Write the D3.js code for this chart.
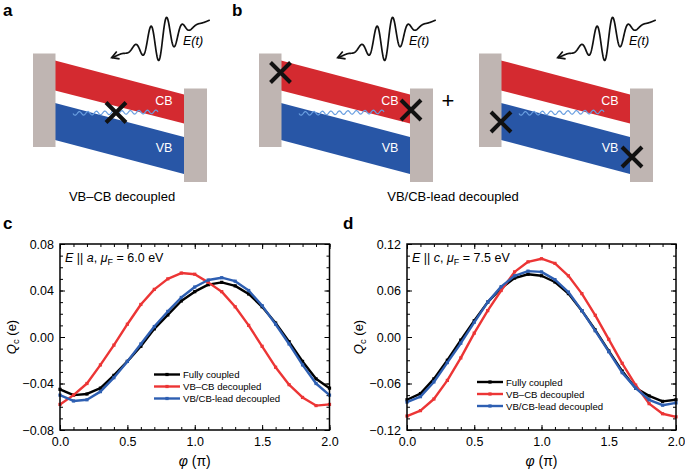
<!DOCTYPE html>
<html>
<head>
<meta charset="utf-8">
<script src="https://cdn.jsdelivr.net/npm/d3@7"></script>
<style>
  body { margin: 0; background: #fff; }
  text { font-family: "Liberation Sans", Arial, sans-serif; }
</style>
</head>
<body>
<script>
// ---- data ----
const phi = [0.0, 0.1, 0.2, 0.3, 0.4, 0.5, 0.6, 0.7, 0.8, 0.9, 1.0,
             1.1, 1.2, 1.3, 1.4, 1.5, 1.6, 1.7, 1.8, 1.9, 2.0];

// panel c: E || a, muF = 6.0 eV
const cFully = [-0.045, -0.050, -0.049, -0.044, -0.033, -0.021, -0.008, 0.007, 0.019, 0.031, 0.039,
                0.045, 0.047, 0.044, 0.037, 0.026, 0.012, -0.004, -0.021, -0.036, -0.044];
const cVbCb  = [-0.058, -0.050, -0.040, -0.024, -0.007, 0.011, 0.028, 0.041, 0.050, 0.055, 0.054,
                0.047, 0.039, 0.026, 0.010, -0.008, -0.026, -0.041, -0.052, -0.059, -0.058];
const cLead  = [-0.050, -0.055, -0.054, -0.047, -0.035, -0.021, -0.006, 0.009, 0.022, 0.034, 0.043,
                0.049, 0.051, 0.048, 0.040, 0.027, 0.011, -0.006, -0.024, -0.040, -0.050];

// panel d: E || c, muF = 7.5 eV
const dFully = [-0.081, -0.073, -0.054, -0.030, -0.004, 0.021, 0.045, 0.063, 0.076, 0.081, 0.079,
                0.071, 0.056, 0.034, 0.009, -0.018, -0.044, -0.066, -0.076, -0.083, -0.081];
const dVbCb  = [-0.102, -0.095, -0.080, -0.056, -0.027, 0.005, 0.034, 0.060, 0.084, 0.097, 0.101,
                0.095, 0.079, 0.056, 0.028, -0.003, -0.034, -0.062, -0.086, -0.099, -0.103];
const dLead  = [-0.084, -0.077, -0.058, -0.033, -0.008, 0.019, 0.045, 0.065, 0.079, 0.085, 0.084,
                0.074, 0.058, 0.034, 0.008, -0.019, -0.046, -0.066, -0.081, -0.088, -0.085];

const seriesNames = ["Fully coupled", "VB\u2013CB decoupled", "VB/CB-lead decoupled"];
const seriesColors = ["#000000", "#ec3535", "#2e5fb2"];

const xTicks = [0, 0.5, 1.0, 1.5, 2.0];
const cYTicks = [-0.08, -0.04, 0.00, 0.04, 0.08];
const dYTicks = [-0.12, -0.06, 0.00, 0.06, 0.12];

const W = 685, H = 470;
const svg = d3.select("body").append("svg").attr("width", W).attr("height", H);
svg.append("rect").attr("width", W).attr("height", H).attr("fill", "#fff");

// ---- schematic panels a / b ----
const LEAD = "#bfb5b2", RED = "#d42a30", BLUE = "#2856a6";

function drawDiagram(lx, crosses) {
  const g = svg.append("g").attr("transform", `translate(${lx},0)`);
  // bands
  g.append("path").attr("d", "M22,60.5 L151,94.5 L151,123.5 L22,90.5Z").attr("fill", RED);
  g.append("path").attr("d", "M22,103 L151,137 L151,174 L22,140Z").attr("fill", BLUE);
  // leads
  g.append("rect").attr("x", 0).attr("y", 53.5).attr("width", 22.5).attr("height", 93.5).attr("fill", LEAD);
  g.append("rect").attr("x", 151).attr("y", 88.5).attr("width", 23).attr("height", 93.5).attr("fill", LEAD);
  // band labels
  g.append("text").attr("x", 131).attr("y", 105).attr("text-anchor", "middle")
    .attr("fill", "#fff").attr("font-size", 12.5).text("CB");
  g.append("text").attr("x", 131).attr("y", 152).attr("text-anchor", "middle")
    .attr("fill", "#fff").attr("font-size", 12.5).text("VB");
  // little wavy coupling line in the gap
  const wave = d3.range(0, 85.01, 0.5).map(s => [40 + s, 113.5 - s * 0.02 + 1.8 * Math.sin(2 * Math.PI * s / 8.5)]);
  g.append("path").attr("d", d3.line()(wave)).attr("fill", "none")
    .attr("stroke", "#6a9fe0").attr("stroke-width", 1.2);
  // light pulse E(t)
  const tip = [78.7, 57.7], tail = [177, 20], L = tail[0] - tip[0];
  const pulse = d3.range(0, L + 0.01, 0.3).map(s => {
    const env = Math.exp(-Math.pow((s - 49) / 20, 2));
    return [tip[0] + s, tip[1] + (tail[1] - tip[1]) * s / L + 21 * env * Math.cos(2 * Math.PI * (s - 47) / 16)];
  });
  g.append("path").attr("d", d3.line()(pulse)).attr("fill", "none")
    .attr("stroke", "#111").attr("stroke-width", 1.7).attr("stroke-linejoin", "round");
  const dir = [L, tail[1] - tip[1]], dl = Math.hypot(dir[0], dir[1]);
  const ux = dir[0] / dl, uy = dir[1] / dl, al = 8, an = Math.PI / 6;
  const arm = a => [tip[0] + al * (ux * Math.cos(a) - uy * Math.sin(a)), tip[1] + al * (ux * Math.sin(a) + uy * Math.cos(a))];
  g.append("path").attr("d", d3.line()([arm(an), tip, arm(-an)])).attr("fill", "none")
    .attr("stroke", "#111").attr("stroke-width", 1.7);
  const et = g.append("text").attr("x", 150).attr("y", 45).attr("font-size", 12.5).attr("font-style", "italic");
  et.append("tspan").text("E(");
  et.append("tspan").text("t");
  et.append("tspan").text(")");
  // crosses
  crosses.forEach(([cx, cy]) => {
    g.append("path").attr("d", `M${cx-10},${cy-10}L${cx+10},${cy+10}M${cx+10},${cy-10}L${cx-10},${cy+10}`)
      .attr("stroke", "#111").attr("stroke-width", 4);
  });
}

drawDiagram(33, [[83, 112.5]]);
drawDiagram(259, [[21.5, 72.5], [152, 110]]);
drawDiagram(479, [[22, 122], [153, 157]]);

svg.append("text").attr("x", 122).attr("y", 201).attr("text-anchor", "middle").attr("font-size", 13).text("VB\u2013CB decoupled");
svg.append("text").attr("x", 453).attr("y", 201).attr("text-anchor", "middle").attr("font-size", 13).text("VB/CB-lead decoupled");
svg.append("text").attr("x", 448).attr("y", 108).attr("text-anchor", "middle").attr("font-size", 22).text("+");

// panel letters
[["a", 3, 16], ["b", 232, 16], ["c", 3, 229], ["d", 343, 229]].forEach(([t, x, y]) => {
  svg.append("text").attr("x", x).attr("y", y).attr("font-size", 17).attr("font-weight", "bold").text(t);
});

// ---- line charts c / d ----
const fmtY = d => (d < -1e-9 ? "\u2212" : "") + Math.abs(d).toFixed(2);
const fmtX = d => d.toFixed(1);

function drawPlot(cfg) {
  const x = d3.scaleLinear().domain([0, 2]).range([cfg.left, cfg.right]);
  const y = d3.scaleLinear().domain(cfg.yDomain).range([cfg.bottom, cfg.top]);
  const g = svg.append("g");
  const xMinor = d3.range(0, 2.001, 0.1);
  const yMinor = d3.range(cfg.yDomain[0], cfg.yDomain[1] + 1e-6, cfg.yMinorStep);

  const style = sel => {
    sel.select(".domain").remove();
    sel.selectAll(".tick line").attr("stroke", "#000").attr("stroke-width", 1);
    sel.selectAll(".tick text").attr("font-size", 12.5).attr("fill", "#000")
      .attr("font-family", "Liberation Sans, Arial, sans-serif");
  };

  // major + minor ticks, all four sides, pointing inward
  g.append("g").attr("transform", `translate(0,${cfg.bottom})`)
    .call(d3.axisBottom(x).tickValues(xMinor).tickSize(-3).tickFormat("")).call(style);
  g.append("g").attr("transform", `translate(0,${cfg.bottom})`)
    .call(d3.axisBottom(x).tickValues(xTicks).tickSize(-5).tickPadding(7).tickFormat(fmtX)).call(style);
  g.append("g").attr("transform", `translate(0,${cfg.top})`)
    .call(d3.axisTop(x).tickValues(xMinor).tickSize(-3).tickFormat("")).call(style);
  g.append("g").attr("transform", `translate(0,${cfg.top})`)
    .call(d3.axisTop(x).tickValues(xTicks).tickSize(-5).tickFormat("")).call(style);
  g.append("g").attr("transform", `translate(${cfg.left},0)`)
    .call(d3.axisLeft(y).tickValues(yMinor).tickSize(-3).tickFormat("")).call(style);
  g.append("g").attr("transform", `translate(${cfg.left},0)`)
    .call(d3.axisLeft(y).tickValues(cfg.yTicks).tickSize(-5).tickPadding(6).tickFormat(fmtY)).call(style);
  g.append("g").attr("transform", `translate(${cfg.right},0)`)
    .call(d3.axisRight(y).tickValues(yMinor).tickSize(-3).tickFormat("")).call(style);
  g.append("g").attr("transform", `translate(${cfg.right},0)`)
    .call(d3.axisRight(y).tickValues(cfg.yTicks).tickSize(-5).tickFormat("")).call(style);

  // series
  const line = d3.line().x((d, i) => x(phi[i])).y(d => y(d));
  cfg.series.forEach((vals, k) => {
    g.append("path").datum(vals).attr("d", line).attr("fill", "none")
      .attr("stroke", seriesColors[k]).attr("stroke-width", 2.4).attr("stroke-linejoin", "round");
    g.selectAll(null).data(vals).join("rect")
      .attr("x", (d, i) => x(phi[i]) - 1.6).attr("y", d => y(d) - 1.6)
      .attr("width", 3.2).attr("height", 3.2).attr("fill", seriesColors[k]);
  });

  // frame
  g.append("rect").attr("x", cfg.left).attr("y", cfg.top)
    .attr("width", cfg.right - cfg.left).attr("height", cfg.bottom - cfg.top)
    .attr("fill", "none").attr("stroke", "#000").attr("stroke-width", 1.5);

  // legend
  seriesNames.forEach((name, k) => {
    const ly = cfg.legendY + k * 12;
    g.append("line").attr("x1", cfg.legendX).attr("x2", cfg.legendX + 26)
      .attr("y1", ly).attr("y2", ly).attr("stroke", seriesColors[k]).attr("stroke-width", 2.4);
    g.append("rect").attr("x", cfg.legendX + 11.4).attr("y", ly - 1.6)
      .attr("width", 3.2).attr("height", 3.2).attr("fill", seriesColors[k]);
    g.append("text").attr("x", cfg.legendX + 29).attr("y", ly + 3.5)
      .attr("font-size", 9.6).text(name);
  });

  // annotation  E || a, muF = ...
  const note = g.append("text").attr("x", cfg.left + 5).attr("y", cfg.top + 18).attr("font-size", 12.5);
  note.append("tspan").attr("font-style", "italic").text("E");
  note.append("tspan").text(" || ");
  note.append("tspan").attr("font-style", "italic").text(cfg.axisName);
  note.append("tspan").text(", ");
  note.append("tspan").attr("font-style", "italic").text("\u03bc");
  note.append("tspan").attr("font-size", 9).attr("dy", 3).text("F");
  note.append("tspan").attr("dy", -3).text(` = ${cfg.mu} eV`);

  // axis titles
  const cy = (cfg.top + cfg.bottom) / 2;
  const yl = g.append("text").attr("transform", `translate(${cfg.left - 44},${cy}) rotate(-90)`)
    .attr("text-anchor", "middle").attr("font-size", 13);
  yl.append("tspan").attr("font-style", "italic").text("Q");
  yl.append("tspan").attr("font-size", 9.5).attr("dy", 3).text("c");
  yl.append("tspan").attr("dy", -3).text(" (e)");

  const xl = g.append("text").attr("x", (cfg.left + cfg.right) / 2).attr("y", 466)
    .attr("text-anchor", "middle").attr("font-size", 14)
    .attr("font-family", "Liberation Serif, Times New Roman, serif");
  xl.append("tspan").attr("font-style", "italic").text("\u03c6");
  xl.append("tspan").text(" (\u03c0)");
}

drawPlot({
  left: 60, right: 329.5, top: 244, bottom: 430,
  yDomain: [-0.08, 0.08], yTicks: cYTicks, yMinorStep: 0.01,
  series: [cFully, cVbCb, cLead],
  legendX: 154, legendY: 374.5, axisName: "a", mu: "6.0"
});
drawPlot({
  left: 407, right: 676, top: 244, bottom: 430,
  yDomain: [-0.12, 0.12], yTicks: dYTicks, yMinorStep: 0.015,
  series: [dFully, dVbCb, dLead],
  legendX: 477, legendY: 382, axisName: "c", mu: "7.5"
});
</script>
</body>
</html>
